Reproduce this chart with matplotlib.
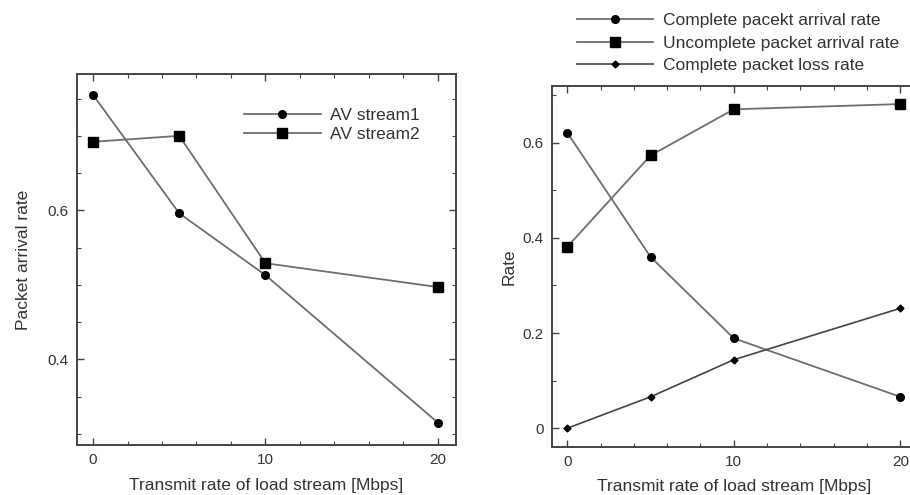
import matplotlib
matplotlib.use("Agg")
import matplotlib.pyplot as plt
from matplotlib.ticker import MultipleLocator

plt.rcParams['font.family'] = ['Liberation Sans', 'DejaVu Sans']

# ---------- data ----------
load_rate = [0, 5, 10, 20]

av_stream1 = [0.755, 0.596, 0.513, 0.315]
av_stream2 = [0.692, 0.700, 0.529, 0.497]

complete_arrival = [0.621, 0.360, 0.189, 0.066]
uncomplete_arrival = [0.381, 0.573, 0.670, 0.681]
complete_loss = [0.0, 0.066, 0.144, 0.252]

FRAME = "#444444"
LINE = "#6e6e6e"
TXT = "#333333"
LBL = 12.5


def style_axes(ax):
    for s in ax.spines.values():
        s.set_linewidth(1.4)
        s.set_color(FRAME)
    ax.tick_params(which="both", direction="in", top=True, right=True,
                   colors=FRAME, labelcolor=TXT, labelsize=11)
    ax.tick_params(which="major", length=5, width=1.0, pad=6)
    ax.tick_params(which="minor", length=3, width=0.8)
    ax.xaxis.set_major_locator(MultipleLocator(10))
    ax.xaxis.set_minor_locator(MultipleLocator(2))


fig = plt.figure(figsize=(9.1, 4.95), dpi=100)

# ---------- left panel ----------
ax1 = fig.add_axes([0.0846, 0.101, 0.4165, 0.7495])
ax1.plot(load_rate, av_stream1, "-o", color=LINE, lw=1.3, ms=5.5,
         mfc="black", mec="black", label="AV stream1")
ax1.plot(load_rate, av_stream2, "-s", color=LINE, lw=1.3, ms=7,
         mfc="black", mec="black", label="AV stream2")
ax1.set_xlim(-0.93, 21.05)
ax1.set_ylim(0.285, 0.783)
ax1.set_yticks([0.4, 0.6])
ax1.set_yticklabels(["0.4", "0.6"])
ax1.yaxis.set_minor_locator(MultipleLocator(0.05))
ax1.set_xticks([0, 10, 20])
style_axes(ax1)
ax1.set_xlabel("Transmit rate of load stream [Mbps]", fontsize=LBL,
               color=TXT, labelpad=8)
ax1.set_ylabel("Packet arrival rate", fontsize=LBL, color=TXT,
               labelpad=12)
ax1.legend(loc="upper left", bbox_to_anchor=(0.40, 0.951), frameon=False,
           fontsize=LBL, handlelength=4.4, handletextpad=0.55,
           labelspacing=0.2, labelcolor=TXT)

# ---------- right panel ----------
ax2 = fig.add_axes([0.6063, 0.0976, 0.4014, 0.7287])
ax2.plot(load_rate, complete_arrival, "-o", color=LINE, lw=1.3, ms=5.5,
         mfc="black", mec="black", label="Complete pacekt arrival rate")
ax2.plot(load_rate, uncomplete_arrival, "-s", color=LINE, lw=1.3, ms=7,
         mfc="black", mec="black", label="Uncomplete packet arrival rate")
ax2.plot(load_rate, complete_loss, "-D", color="#444444", lw=1.2, ms=3.5,
         mfc="black", mec="black", label="Complete packet loss rate")
ax2.set_xlim(-0.93, 21.0)
ax2.set_ylim(-0.0387, 0.719)
ax2.set_yticks([0, 0.2, 0.4, 0.6])
ax2.set_yticklabels(["0", "0.2", "0.4", "0.6"])
ax2.yaxis.set_minor_locator(MultipleLocator(0.1))
ax2.set_xticks([0, 10, 20])
style_axes(ax2)
ax2.set_xlabel("Transmit rate of load stream [Mbps]", fontsize=LBL,
               color=TXT, labelpad=7)
ax2.set_ylabel("Rate", fontsize=LBL, color=TXT, labelpad=4)
fig.legend(*ax2.get_legend_handles_labels(), loc="upper left",
           bbox_to_anchor=(0.6165, 1.005), frameon=False, fontsize=LBL,
           handlelength=4.4, handletextpad=0.55, labelspacing=0.42,
           labelcolor=TXT)

fig.savefig("out.png", dpi=100)
